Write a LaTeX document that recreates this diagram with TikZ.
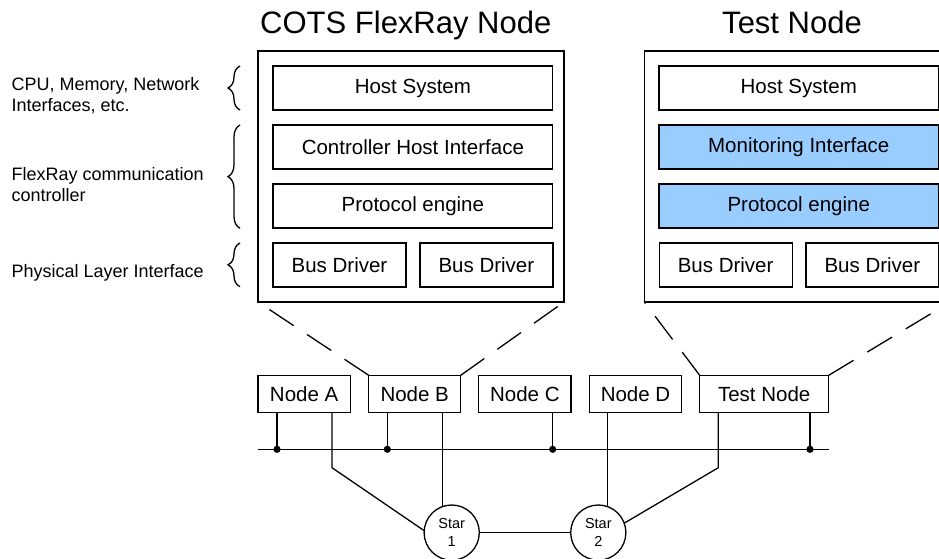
\documentclass[tikz,border=0pt]{standalone}
\usepackage{fontspec}
\setmainfont{Liberation Sans}
\usetikzlibrary{decorations.pathreplacing,calc}
\definecolor{boxblue}{HTML}{99CCFF}
\begin{document}
\begin{tikzpicture}[x=1pt,y=-1pt,
  line width=1.3pt,
  outerbox/.style={draw, minimum width=306pt, minimum height=251pt, inner sep=0, outer sep=0},
  layerbox/.style={draw, minimum height=44pt, inner sep=0, outer sep=0, font=\fontsize{20.5}{24}\selectfont},
  wide/.style={layerbox, minimum width=279.7pt},
  half/.style={layerbox, minimum width=133pt},
  mon/.style={fill=boxblue},
  netnode/.style={draw, minimum height=37pt, inner sep=0, outer sep=0, font=\fontsize{20.5}{24}\selectfont},
  starhub/.style={draw, circle, minimum size=55.2pt, inner sep=0, outer sep=0, align=center, font=\fontsize{14.5}{18}\selectfont},
  zoomline/.style={dash pattern=on 29pt off 16pt},
  layerbrace/.style={decorate, decoration={brace, amplitude=12pt}},
  sidelabel/.style={anchor=north west, inner sep=0, align=left, font=\fontsize{18}{21}\selectfont},
  titletext/.style={anchor=base, inner sep=0, font=\fontsize{31}{36}\selectfont}
]
\useasboundingbox (0,0) rectangle (939,559);
\clip (0,0) rectangle (939,559);

% titles
\node[titletext] (t1) at (405.8,33.3) {COTS FlexRay Node};
\node[titletext] (t2) at (792,33.3) {Test Node};

% side labels
\node[sidelabel] (l1) at (11,77) {CPU, Memory, Network\\Interfaces, etc.};
\node[sidelabel] (l2) at (11,167) {FlexRay communication\\controller};
\node[sidelabel] (l3) at (11,264) {Physical Layer Interface};
\draw[layerbrace] (240,110) -- (240,66);
\draw[layerbrace] (240,228.3) -- (240,125);
\draw[layerbrace] (240,286.7) -- (240,243);

% COTS node
\node[outerbox] (cots) at (411,176.5) {};
\node[wide] (hs1) at (412.85,88) {Host System};
\node[wide] (chi) at (412.85,147) {Controller Host Interface};
\node[wide] (pe1) at (412.85,206) {Protocol engine};
\node[half] (bd1) at (339.5,265) {Bus Driver};
\node[half] (bd2) at (486.35,265) {Bus Driver};

% Test node
\node[outerbox] (test) at (797.3,176.5) {};
\node[wide] (hs2) at (798.75,88) {Host System};
\node[wide,mon] (mi) at (798.75,147) {Monitoring Interface};
\node[wide,mon] (pe2) at (798.75,206) {Protocol engine};
\node[half] (bd3) at (725.65,265) {Bus Driver};
\node[half] (bd4) at (872.4,265) {Bus Driver};

% network nodes
\node[netnode, minimum width=92.3pt] (nA) at (304.15,393.8) {Node A};
\node[netnode, minimum width=92pt] (nB) at (414.7,393.8) {Node B};
\node[netnode, minimum width=92.3pt] (nC) at (524.85,393.8) {Node C};
\node[netnode, minimum width=92.4pt] (nD) at (635.5,393.8) {Node D};
\node[netnode, minimum width=129pt] (nT) at (764.2,393.8) {Test Node};

% zoom lines
\draw[zoomline] (nB.north west) -- (cots.south west);
\draw[zoomline] (nB.north east) -- (cots.south east);
\draw[zoomline] (nT.north west) -- (test.south west);
\draw[zoomline] (nT.north east) -- (test.south east);

% stars
\node[starhub] (star1) at (451.7,532.6) {Star\\1};
\node[starhub] (star2) at (598.3,532.6) {Star\\2};

% bus
\coordinate (tapA) at (277,449.3);
\coordinate (tapB) at (387.3,449.3);
\coordinate (tapC) at (552.7,449.3);
\coordinate (tapT) at (810,449.3);
\draw (nA.south west |- tapA) -- (nT.south east |- tapA);
\foreach \t/\n in {tapA/nA, tapB/nB, tapC/nC, tapT/nT}{
  \draw (\n.south -| \t) -- (\t);
  \fill (\t) circle[radius=3.6pt];
}

% star links
\coordinate (kA) at (332,467.7);
\coordinate (kT) at (718.3,467.7);
\draw (nA.south -| kA) -- (kA) -- (star1.176);
\draw (nB.south -| star1.109) -- (star1.109);
\draw (nD.south -| star2.70) -- (star2.70);
\draw (nT.south -| kT) -- (kT) -- (star2.20);
\draw (star1.east) -- (star2.west);
\end{tikzpicture}
\end{document}
